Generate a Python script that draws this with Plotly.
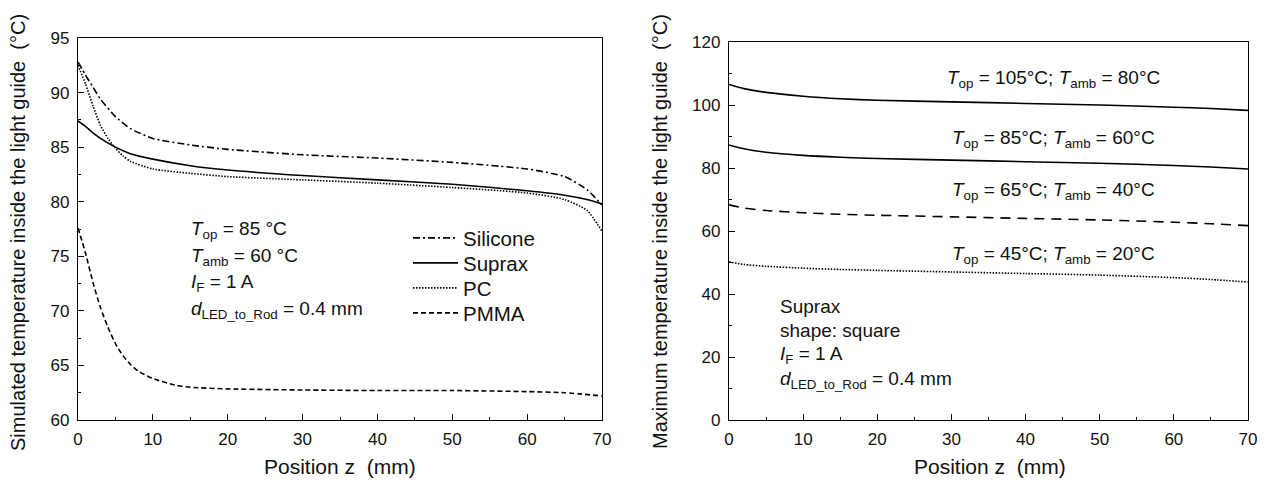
import plotly.graph_objects as go

# ---------------- Left panel data ----------------
z_sil = [0, 1, 2, 3, 5, 7, 10, 15, 20, 30, 40, 50, 60, 65, 68, 70]
t_sil = [92.8, 91.6, 90.5, 89.4, 87.8, 86.7, 85.8, 85.2, 84.8, 84.3, 84.0, 83.6, 83.0, 82.3, 81.1, 79.7]

z_sup = [0, 1, 2, 3, 5, 7, 10, 15, 20, 30, 40, 50, 60, 65, 68, 70]
t_sup = [87.4, 86.9, 86.3, 85.8, 85.0, 84.4, 83.9, 83.3, 82.9, 82.4, 82.0, 81.6, 81.0, 80.6, 80.2, 79.8]

z_pc = [0, 1, 2, 3, 4, 5, 6, 7, 10, 15, 20, 30, 40, 50, 60, 65, 68, 70]
t_pc = [92.5, 90.8, 88.8, 87.0, 85.8, 84.9, 84.2, 83.7, 83.0, 82.6, 82.3, 82.0, 81.7, 81.3, 80.8, 80.2, 79.2, 77.3]

z_pmma = [0, 1, 2, 3, 4, 5, 6, 7, 8, 10, 13, 15, 20, 30, 40, 50, 60, 65, 70]
t_pmma = [77.6, 75.3, 72.6, 70.3, 68.5, 67.0, 65.9, 65.1, 64.5, 63.8, 63.2, 63.0, 62.85, 62.75, 62.7, 62.7, 62.6, 62.5, 62.2]

left_names = ["Silicone", "Suprax", "PC", "PMMA"]

# ---------------- Right panel data ----------------
z_r = [0, 2, 5, 10, 15, 20, 30, 40, 50, 60, 65, 70]
t_105 = [106.5, 105.2, 104.0, 102.8, 102.0, 101.5, 101.0, 100.5, 100.0, 99.3, 98.9, 98.3]
t_85 = [87.3, 86.1, 85.0, 84.0, 83.4, 83.0, 82.5, 82.0, 81.5, 80.8, 80.3, 79.7]
t_65 = [68.3, 67.3, 66.5, 65.8, 65.3, 65.0, 64.5, 64.0, 63.5, 62.8, 62.3, 61.7]
t_45 = [50.2, 49.4, 48.8, 48.2, 47.8, 47.5, 47.0, 46.5, 46.0, 45.2, 44.6, 43.8]

x_ticks = [0, 10, 20, 30, 40, 50, 60, 70]
yl_ticks = [60, 65, 70, 75, 80, 85, 90, 95]
yr_ticks = [0, 20, 40, 60, 80, 100, 120]

FONT = "Liberation Sans, Arial, sans-serif"
BLACK = "#000000"
TXT = "#111111"

# page body has an 8px margin: figure is placed at (8, 8) in the window
W, H = 1251, 473
def px(X):
    return (X - 8) / W
def py(Y):
    return 1 - (Y - 8) / H

fig = go.Figure()

legend_keys = ["legend", "legend2", "legend3", "legend4"]
legend_rows = [238, 263, 288, 313]

left_series = [(z_sil, t_sil, "7px,3px,2px,3px"), (z_sup, t_sup, "solid"),
               (z_pc, t_pc, "1.5px,1.5px"), (z_pmma, t_pmma, "5px,3px")]
for name, (zz, tt, dash), lg in zip(left_names, left_series, legend_keys):
    fig.add_trace(go.Scatter(x=zz, y=tt, mode="lines", name=name, legend=lg,
                             line=dict(color=BLACK, width=1.6, dash=dash, shape="spline", smoothing=0.6),
                             xaxis="x", yaxis="y"))

right_series = [(t_105, "solid"), (t_85, "solid"), (t_65, "10px,7px"), (t_45, "1.5px,1.5px")]
for tt, dash in right_series:
    fig.add_trace(go.Scatter(x=z_r, y=tt, mode="lines", showlegend=False,
                             line=dict(color=BLACK, width=1.6, dash=dash, shape="spline", smoothing=0.6),
                             xaxis="x2", yaxis="y2"))

axis_common = dict(showline=True, linecolor=BLACK, linewidth=1.3, mirror=True,
                   ticks="inside", ticklen=6, tickwidth=1.2, tickcolor=BLACK,
                   showgrid=False, zeroline=False, automargin=False,
                   tickfont=dict(family=FONT, size=17, color=TXT))

def xaxis(dom, anchor):
    return dict(domain=dom, anchor=anchor, range=[0, 70], tickvals=x_ticks,
                minor=dict(ticks="inside", ticklen=3, tickcolor=BLACK, dtick=5, tick0=0),
                ticklabelstandoff=3, **axis_common)

legend_base = dict(x=px(408), xanchor="left", yanchor="middle", bgcolor="rgba(0,0,0,0)",
                   font=dict(family=FONT, size=20.5, color=TXT), itemwidth=45,
                   borderwidth=0)

fig.update_layout(
    width=W, height=H,
    margin=dict(l=0, r=0, t=0, b=0),
    paper_bgcolor="white", plot_bgcolor="white",
    font=dict(family=FONT, color=TXT),
    xaxis=xaxis([px(78), px(602)], "y"),
    xaxis2=xaxis([px(729), px(1248)], "y2"),
    yaxis=dict(domain=[py(420), py(38)], anchor="x", range=[60, 95], tickvals=yl_ticks,
               minor=dict(ticks="inside", ticklen=3, tickcolor=BLACK, dtick=2.5, tick0=60),
               ticklabelstandoff=4, **axis_common),
    yaxis2=dict(domain=[py(420), py(42)], anchor="x2", range=[0, 120], tickvals=yr_ticks,
                minor=dict(ticks="inside", ticklen=3, tickcolor=BLACK, dtick=10, tick0=0),
                ticklabelstandoff=4, **axis_common),
    showlegend=True,
)
for lg, row in zip(legend_keys, legend_rows):
    fig.update_layout({lg: dict(legend_base, y=py(row))})

title_font = dict(family=FONT, size=20, color=TXT)
# x-axis titles
for X in (340, 990):
    fig.add_annotation(text="Position z  (mm)", xref="paper", yref="paper",
                       x=px(X), y=py(466), showarrow=False,
                       xanchor="center", yanchor="middle", font=dict(family=FONT, size=21, color=TXT))
# y-axis titles (rotated)
fig.add_annotation(text="Simulated temperature inside the light guide  (°C)", xref="paper", yref="paper",
                   x=px(18), y=py(233), textangle=-90, showarrow=False,
                   xanchor="center", yanchor="middle", font=title_font)
fig.add_annotation(text="Maximum temperature inside the light guide  (°C)", xref="paper", yref="paper",
                   x=px(660), y=py(232), textangle=-90, showarrow=False,
                   xanchor="center", yanchor="middle", font=title_font)

ann_font = dict(family=FONT, size=19, color=TXT)
left_lines = ["<i>T</i><sub>op</sub> = 85 °C", "<i>T</i><sub>amb</sub> = 60 °C",
              "<i>I</i><sub>F</sub> = 1 A", "<i>d</i><sub>LED_to_Rod</sub> = 0.4 mm"]
for i, txt in enumerate(left_lines):
    fig.add_annotation(text=txt, xref="x", yref="paper", x=14.8, y=py(230 + 26.6 * i),
                       xanchor="left", yanchor="middle", showarrow=False, font=ann_font)

right_lines = ["Suprax", "shape: square", "<i>I</i><sub>F</sub> = 1 A", "<i>d</i><sub>LED_to_Rod</sub> = 0.4 mm"]
for i, txt in enumerate(right_lines):
    fig.add_annotation(text=txt, xref="x2", yref="paper", x=6.6, y=py(306 + 24.6 * i),
                       xanchor="left", yanchor="middle", showarrow=False, font=ann_font)

curve_labels = [("<i>T</i><sub>op</sub> = 105°C; <i>T</i><sub>amb</sub> = 80°C", 108.2),
                ("<i>T</i><sub>op</sub> = 85°C; <i>T</i><sub>amb</sub> = 60°C", 89.3),
                ("<i>T</i><sub>op</sub> = 65°C; <i>T</i><sub>amb</sub> = 40°C", 72.7),
                ("<i>T</i><sub>op</sub> = 45°C; <i>T</i><sub>amb</sub> = 20°C", 52.4)]
for txt, yv in curve_labels:
    fig.add_annotation(text=txt, xref="x2", yref="y2", x=43.8, y=yv,
                       xanchor="center", yanchor="middle", showarrow=False,
                       font=dict(family=FONT, size=19, color=TXT))

fig.write_html("out.html")
